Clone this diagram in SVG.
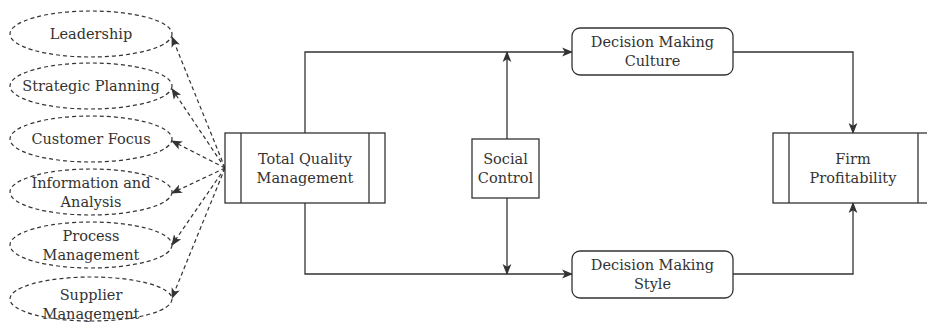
<svg xmlns="http://www.w3.org/2000/svg" width="927" height="326" viewBox="0 0 927 326">
<defs>
<style>
.t{font-family:"DejaVu Serif","Liberation Serif",serif;font-size:14.5px;fill:#333;text-anchor:middle}
.n{fill:#fff;stroke:#333;stroke-width:1.3}
.e{fill:#fff;stroke:#333;stroke-width:1.2;stroke-dasharray:4 3}
.c{fill:none;stroke:#333;stroke-width:1.3}
.d{fill:none;stroke:#333;stroke-width:1.2;stroke-dasharray:4 3}
</style>
<marker id="ar" viewBox="0 0 10 10" refX="9" refY="5" markerWidth="11" markerHeight="11" markerUnits="userSpaceOnUse" orient="auto">
<path d="M0,1 L10,5 L0,9 L2.5,5 Z" fill="#333"/>
</marker>
</defs>
<rect width="927" height="326" fill="#fff"/>
<g id="connectors">
<path class="d" d="M225,168 L172,37" marker-end="url(#ar)"/>
<path class="d" d="M225,168 L172,89" marker-end="url(#ar)"/>
<path class="d" d="M225,168 L172,141" marker-end="url(#ar)"/>
<path class="d" d="M225,168 L172,193" marker-end="url(#ar)"/>
<path class="d" d="M225,168 L172,245" marker-end="url(#ar)"/>
<path class="d" d="M225,168 L172,298" marker-end="url(#ar)"/>
<path class="c" d="M305,133 L305,52 L572,52" marker-end="url(#ar)"/>
<path class="c" d="M305,203 L305,274 L572,274" marker-end="url(#ar)"/>
<path class="c" d="M507,139 L507,52" marker-end="url(#ar)"/>
<path class="c" d="M507,198 L507,274" marker-end="url(#ar)"/>
<path class="c" d="M733,52 L853,52 L853,133" marker-end="url(#ar)"/>
<path class="c" d="M733,274 L853,274 L853,203" marker-end="url(#ar)"/>
</g>
<g id="leadership">
<ellipse class="e" cx="91" cy="34" rx="81" ry="23"/>
<text class="t" x="91" y="39">Leadership</text>
</g>
<g id="strategic-planning">
<ellipse class="e" cx="91" cy="86" rx="81" ry="23"/>
<text class="t" x="91" y="91">Strategic Planning</text>
</g>
<g id="customer-focus">
<ellipse class="e" cx="91" cy="139" rx="81" ry="23"/>
<text class="t" x="91" y="144">Customer Focus</text>
</g>
<g id="information-analysis">
<ellipse class="e" cx="91" cy="192" rx="81" ry="23"/>
<text class="t" x="91" y="188">Information and</text>
<text class="t" x="91" y="207">Analysis</text>
</g>
<g id="process-management">
<ellipse class="e" cx="91" cy="245" rx="81" ry="23"/>
<text class="t" x="91" y="241">Process</text>
<text class="t" x="91" y="260">Management</text>
</g>
<g id="supplier-management">
<ellipse class="e" cx="91" cy="299" rx="81" ry="22"/>
<text class="t" x="91" y="300">Supplier</text>
<text class="t" x="91" y="319">Management</text>
</g>
<g id="tqm">
<rect class="n" x="225" y="133" width="160" height="70"/>
<line class="c" x1="241" y1="133" x2="241" y2="203"/>
<line class="c" x1="369" y1="133" x2="369" y2="203"/>
<text class="t" x="305" y="164">Total Quality</text>
<text class="t" x="305" y="183">Management</text>
</g>
<g id="social-control">
<rect class="n" x="472" y="139" width="67" height="59"/>
<text class="t" x="505.5" y="164">Social</text>
<text class="t" x="505.5" y="183">Control</text>
</g>
<g id="dm-culture">
<rect class="n" x="572" y="28" width="161" height="47" rx="8"/>
<text class="t" x="652.5" y="47">Decision Making</text>
<text class="t" x="652.5" y="66">Culture</text>
</g>
<g id="dm-style">
<rect class="n" x="572" y="251" width="161" height="47" rx="8"/>
<text class="t" x="652.5" y="270">Decision Making</text>
<text class="t" x="652.5" y="289">Style</text>
</g>
<g id="firm-profitability">
<rect class="n" x="773" y="133" width="161" height="70"/>
<line class="c" x1="789" y1="133" x2="789" y2="203"/>
<line class="c" x1="918" y1="133" x2="918" y2="203"/>
<text class="t" x="853" y="164">Firm</text>
<text class="t" x="853" y="183">Profitability</text>
</g>
</svg>
